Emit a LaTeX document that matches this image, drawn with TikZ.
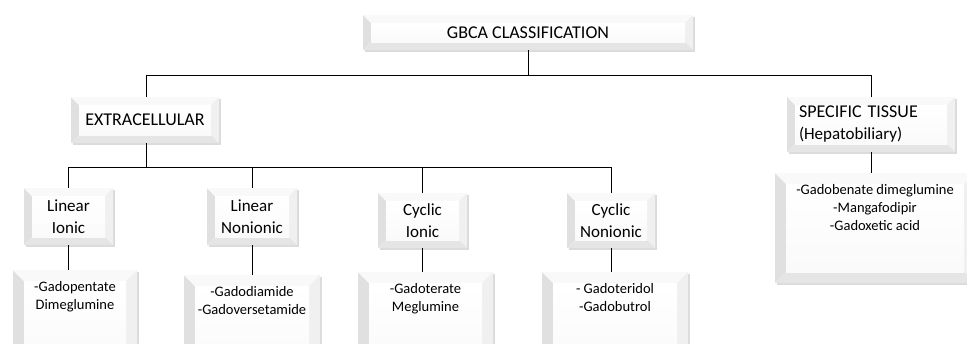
\documentclass[tikz,border=0pt]{standalone}
\usepackage{fontspec}
\setmainfont{Carlito}
\usetikzlibrary{shadows}
\def\bvs{8pt}
\tikzset{
  bevsize/.code={\def\bvs{#1}},
  bev/.style={draw=none, fill=white, inner sep=0pt, align=center,
    drop shadow={opacity=0.28, shadow xshift=1.5pt, shadow yshift=-2pt},
    path picture={
      \path (path picture bounding box.south west) coordinate (bvsw)
            (path picture bounding box.north east) coordinate (bvne)
            (path picture bounding box.north west) coordinate (bvnw)
            (path picture bounding box.south east) coordinate (bvse);
      \path ([shift={(\bvs,-\bvs)}]bvnw) coordinate (bvinw)
            ([shift={(-\bvs,-\bvs)}]bvne) coordinate (bvine)
            ([shift={(\bvs,\bvs)}]bvsw) coordinate (bvisw)
            ([shift={(-\bvs,\bvs)}]bvse) coordinate (bvise);
      \fill[gray!24] (bvsw) -- (bvnw) -- (bvinw) -- (bvisw) -- cycle;
      \fill[gray!5] (bvnw) -- (bvne) -- (bvine) -- (bvinw) -- cycle;
      \fill[gray!12] (bvne) -- (bvse) -- (bvise) -- (bvine) -- cycle;
      \fill[gray!20] (bvse) -- (bvsw) -- (bvisw) -- (bvise) -- cycle;
      \shade[top color=white, bottom color=gray!4] (bvinw) rectangle (bvise);
    }},
  headbox/.style={bev, font=\fontsize{18}{22}\selectfont},
  catbox/.style={bev, font=\fontsize{17}{22}\selectfont},
  leafbox/.style={bev, bevsize=11pt, font=\fontsize{14.5}{18}\selectfont},
  conn/.style={draw=black, line width=0.9pt},
}
\newcommand{\leaftext}[3]{\parbox[t][#2][t]{#1}{\centering\vspace*{11pt}#3}}
\begin{document}
\begin{tikzpicture}[x=1pt,y=-1pt]
\useasboundingbox (0,0) rectangle (967,343);
\clip (0,0) rectangle (967,343);
\fill[white] (0,0) rectangle (967,343);

% nodes
\node[headbox, minimum width=330pt, minimum height=35pt] (top) at (528,32.5) {GBCA CLASSIFICATION};
\node[headbox, minimum width=148pt, minimum height=46pt] (ext) at (145,120) {EXTRACELLULAR};
\node[headbox, minimum width=168pt, minimum height=55pt, text width=144pt, align=left] (spec) at (871,124.5)
  {SPECIFIC TISSUE\\{\fontsize{17}{21}\selectfont (Hepatobiliary)}};

\node[catbox, minimum width=89pt, minimum height=57pt] (li) at (68.5,216.5) {Linear\\Ionic};
\node[catbox, minimum width=90pt, minimum height=57pt] (ln) at (252,216.5) {Linear\\Nonionic};
\node[catbox, minimum width=89pt, minimum height=55pt] (ci) at (422.5,220.5) {Cyclic\\Ionic};
\node[catbox, minimum width=88pt, minimum height=55pt] (cn) at (611,220.5) {Cyclic\\Nonionic};

\node[leafbox] (lib) at (75,320) {\leaftext{124pt}{100pt}{-Gadopentate\\Dimeglumine}};
\node[leafbox] (lnb) at (252,325) {\leaftext{136pt}{100pt}{-Gadodiamide\\-Gadoversetamide}};
\node[leafbox] (cib) at (425.5,322) {\leaftext{135pt}{100pt}{-Gadoterate\\Meglumine}};
\node[leafbox] (cnb) at (615,322) {\leaftext{146pt}{100pt}{- Gadoteridol\\-Gadobutrol}};
\node[leafbox] (specb) at (875,228) {\leaftext{200pt}{110pt}{-Gadobenate dimeglumine\\-Mangafodipir\\-Gadoxetic acid}};

% junctions
\coordinate (j1) at (528,75);
\coordinate (j2) at (146,167);

% connectors
\draw[conn] (top.south) -- (j1);
\draw[conn] (ext.north -| j2) -- (j2 |- j1) -- (spec.north |- j1) -- (spec.north);
\draw[conn] (ext.south -| j2) -- (j2);
\draw[conn] (li.north) -- (li.north |- j2) -- (cn.north |- j2) -- (cn.north);
\draw[conn] (ln.north) -- (ln.north |- j2);
\draw[conn] (ci.north) -- (ci.north |- j2);
\draw[conn] (spec.south) -- (spec.south |- specb.north);
\draw[conn] (li.south) -- (li.south |- lib.north);
\draw[conn] (ln.south) -- (ln.south |- lnb.north);
\draw[conn] (ci.south) -- (ci.south |- cib.north);
\draw[conn] (cn.south) -- (cn.south |- cnb.north);
\end{tikzpicture}
\end{document}
